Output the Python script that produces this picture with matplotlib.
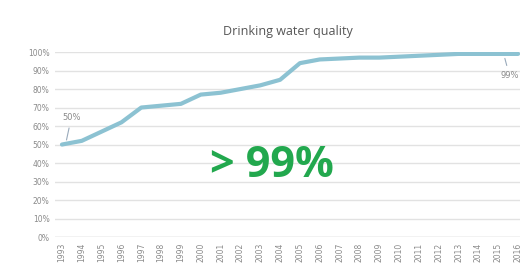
import matplotlib
matplotlib.use("AGG")
import matplotlib.pyplot as plt
import numpy as np

years = list(range(1993, 2017))
quality = [50, 52, 57, 62, 70, 71, 72, 77, 78, 80, 82, 85, 94, 96, 96.5, 97,
           97, 97.5, 98, 98.5, 99, 99, 99, 99]
yticks = list(range(0, 101, 10))

fig = plt.figure(figsize=(5.29, 2.74), dpi=100)
ax = fig.add_axes([0.104, 0.135, 0.879, 0.675])

ax.plot(years, quality, color="#8cc2d2", lw=3, solid_capstyle="round", zorder=3)

ax.set_xlim(1992.65, 2016.1)
ax.set_ylim(0, 100)
ax.set_yticks(yticks)
ax.set_yticklabels([f"{v}%" for v in yticks])
ax.set_xticks(years)
ax.set_xticklabels([str(y) for y in years], rotation=90)
ax.tick_params(axis="both", length=0, labelsize=5.5, colors="#8a8a8a", pad=4)
ax.grid(axis="y", color="#e2e2e2", lw=1)
ax.set_axisbelow(True)
for s in ax.spines.values():
    s.set_visible(False)
ax.axhline(0, color="#d8d8d8", lw=1)

ax.set_title("Drinking water quality", fontsize=9, color="#555555",
             family="Open Sans", pad=12)

# point labels
ax.annotate("50%", xy=(years[0] + 0.2, quality[0] + 1), xytext=(years[0], 63),
            fontsize=6, color="#8a8a8a",
            arrowprops=dict(arrowstyle="-", color="#9ab", lw=0.8))
ax.annotate("99%", xy=(years[-2] + 0.3, quality[-2] - 1), xytext=(years[-2] + 0.1, 86),
            fontsize=6, color="#8a8a8a",
            arrowprops=dict(arrowstyle="-", color="#9ab", lw=0.8))

fig.text(0.515, 0.395, "> 99%", fontsize=31, fontweight="bold", color="#22a84e",
         family="Open Sans", ha="center", va="center")

fig.savefig("out.png", dpi=100, facecolor="white")
